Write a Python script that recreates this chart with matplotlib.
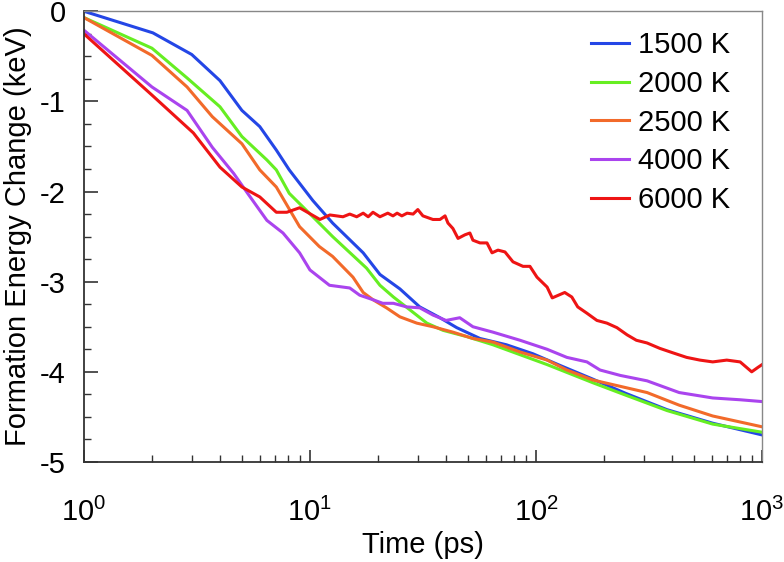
import matplotlib
matplotlib.use("Agg")
import matplotlib.pyplot as plt
from matplotlib.ticker import LogLocator, MultipleLocator

plt.rcParams.update({
    "font.family": "Liberation Sans",
    "mathtext.default": "regular",
    "axes.unicode_minus": False,
})

# values (time in ps, energy change in keV)
t_1500 = [1, 2.02, 3.0, 4.0, 5.0, 6.0, 7.1, 8.1, 10.3, 12.6, 17.2, 20.4, 25, 30.6, 37.6,
          44.6, 56.5, 74, 97, 128, 178, 250, 380, 605, 1000]
e_1500 = [0.0, -0.24, -0.48, -0.77, -1.10, -1.28, -1.54, -1.76, -2.10, -2.35, -2.68, -2.92,
          -3.08, -3.28, -3.40, -3.51, -3.63, -3.70, -3.80, -3.93, -4.08, -4.24, -4.42, -4.57, -4.70]

t_2000 = [1, 2.0, 2.86, 4.0, 5.0, 6.45, 7.1, 8.1, 10.3, 12.6, 17.8, 20.4, 23.4, 27.6, 32.9,
          38.8, 49.5, 64.5, 85, 112, 178, 250, 380, 605, 1000]
e_2000 = [-0.07, -0.41, -0.74, -1.06, -1.39, -1.65, -1.76, -2.02, -2.28, -2.50, -2.85, -3.04,
          -3.17, -3.31, -3.46, -3.54, -3.61, -3.70, -3.81, -3.92, -4.12, -4.26, -4.43, -4.58, -4.67]

t_2500 = [1, 2.0, 2.86, 3.7, 5.0, 6.0, 7.1, 9.0, 11.0, 12.6, 15.5, 17.2, 19.0, 21.8, 25,
          29.7, 35, 42.9, 52.6, 64.5, 85, 112, 137, 178, 310, 430, 605, 1000]
e_2500 = [-0.07, -0.49, -0.84, -1.17, -1.47, -1.76, -1.95, -2.39, -2.61, -2.72, -2.95, -3.12,
          -3.20, -3.29, -3.39, -3.46, -3.50, -3.56, -3.63, -3.67, -3.78, -3.87, -3.98, -4.09,
          -4.23, -4.37, -4.49, -4.61]

t_4000 = [1, 2.0, 2.86, 3.7, 4.6, 5.3, 6.45, 7.6, 9.0, 10.0, 12.2, 15.0, 16.6, 19.0, 21,
          23.4, 26.8, 30.6, 35, 40, 46, 52.6, 64.5, 85, 112, 137, 168, 192, 236, 310, 430,
          605, 800, 1000]
e_4000 = [-0.21, -0.84, -1.10, -1.51, -1.80, -2.02, -2.32, -2.46, -2.68, -2.87, -3.04, -3.07,
          -3.15, -3.20, -3.24, -3.24, -3.28, -3.29, -3.37, -3.43, -3.40, -3.50, -3.56, -3.65,
          -3.75, -3.84, -3.89, -3.98, -4.04, -4.10, -4.23, -4.29, -4.31, -4.33]

t_6000 = [1, 2.0, 3.05, 4.0, 5.0, 6.0, 7.1, 7.9, 9.0, 11.07, 12.25, 14.0, 15.0, 16.1, 17.2,
          18.1, 19.0, 20.4, 22.1, 23.3, 24.3, 25.5, 26.9, 28.6, 30.0, 31.6, 35.0, 37.6,
          39.6, 40.8, 42.9, 45.2, 48.5, 51.0, 52.6, 56.5, 60.7, 63.9, 67.9, 72.9, 79.1,
          87.6, 94.0, 101, 112, 118, 134, 144, 153, 168, 186, 206, 228, 253, 278, 310,
          353, 404, 464, 531, 605, 698, 800, 900, 960, 1000]
e_6000 = [-0.25, -0.93, -1.35, -1.73, -1.95, -2.06, -2.23, -2.23, -2.18, -2.31, -2.26, -2.28,
          -2.25, -2.28, -2.24, -2.28, -2.23, -2.28, -2.24, -2.27, -2.24, -2.27, -2.24,
          -2.25, -2.20, -2.27, -2.31, -2.31, -2.27, -2.35, -2.41, -2.52, -2.48, -2.46,
          -2.54, -2.57, -2.57, -2.68, -2.65, -2.67, -2.78, -2.83, -2.83, -2.95, -3.06,
          -3.18, -3.12, -3.17, -3.28, -3.35, -3.43, -3.46, -3.51, -3.59, -3.65, -3.68,
          -3.74, -3.79, -3.84, -3.87, -3.89, -3.87, -3.89, -4.00, -3.95, -3.92]

labels = ["1500 K", "2000 K", "2500 K", "4000 K", "6000 K"]
colors = ["#2446e6", "#66ee22", "#f26a2a", "#aa44ee", "#ee1414"]

fig = plt.figure(figsize=(7.84, 5.62), dpi=100)
ax = fig.add_axes([0.107, 0.178, 0.865, 0.802])

series = [(t_1500, e_1500), (t_2000, e_2000), (t_2500, e_2500), (t_4000, e_4000), (t_6000, e_6000)]
for (t, e), lab, c in zip(series, labels, colors):
    ax.plot(t, e, color=c, lw=2.2, label=lab)

ax.set_xscale("log")
ax.set_xlim(1, 1000)
ax.set_ylim(-5, 0)
ax.yaxis.set_major_locator(MultipleLocator(1))
ax.yaxis.set_minor_locator(MultipleLocator(0.25))
ax.xaxis.set_major_locator(LogLocator(base=10))
ax.xaxis.set_minor_locator(LogLocator(base=10, subs=range(2, 10)))

ax.tick_params(which="both", direction="in", top=False, right=False, labelsize=21,
               color="#333333")
ax.tick_params(axis="y", which="major", length=10, width=1.2, pad=13)
ax.tick_params(axis="y", which="minor", length=5, width=1.0)
ax.tick_params(axis="x", which="major", length=9, width=1.2, pad=26)
ax.tick_params(axis="x", which="minor", length=5, width=1.0)

for s in ["left", "bottom"]:
    ax.spines[s].set_color("#333333")
    ax.spines[s].set_linewidth(1.3)
for s in ["top", "right"]:
    ax.spines[s].set_color("#888888")
    ax.spines[s].set_linewidth(1.0)

ax.set_xlabel("Time (ps)", fontsize=21, labelpad=3)
ax.set_ylabel("Formation Energy Change (keV)", fontsize=21, labelpad=6)

ax.legend(loc="upper right", frameon=False, fontsize=21, handlelength=1.3,
          handletextpad=0.3, labelspacing=0.37, borderpad=0, borderaxespad=0,
          bbox_to_anchor=(730 / 784, 1 - 31 / 562), bbox_transform=fig.transFigure)

fig.savefig("out.png", dpi=100)
